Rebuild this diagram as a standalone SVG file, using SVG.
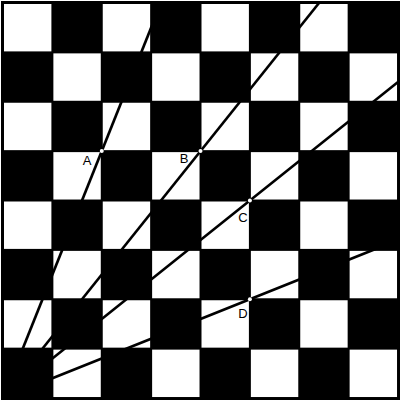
<svg xmlns="http://www.w3.org/2000/svg" width="401" height="401" viewBox="0 0 401 401">
<style>
.w{fill:#fff}
.ln{stroke:#000;stroke-width:2.7;fill:none;stroke-linecap:butt}
.pt{fill:#fff}
.lb{font-family:"Liberation Sans",Arial,sans-serif;font-size:13px;fill:#000;text-anchor:middle}
</style>
<defs><rect id="sq" width="47.4" height="47.4" class="w"/></defs>
<g id="board">
<rect x="1" y="1" width="399" height="399" fill="#000"/>
<use href="#sq" x="4" y="4"/><use href="#sq" x="102.75" y="4"/><use href="#sq" x="201.5" y="4"/><use href="#sq" x="300.25" y="4"/>
<use href="#sq" x="53.375" y="53.375"/><use href="#sq" x="152.125" y="53.375"/><use href="#sq" x="250.875" y="53.375"/><use href="#sq" x="349.625" y="53.375"/>
<use href="#sq" x="4" y="102.75"/><use href="#sq" x="102.75" y="102.75"/><use href="#sq" x="201.5" y="102.75"/><use href="#sq" x="300.25" y="102.75"/>
<use href="#sq" x="53.375" y="152.125"/><use href="#sq" x="152.125" y="152.125"/><use href="#sq" x="250.875" y="152.125"/><use href="#sq" x="349.625" y="152.125"/>
<use href="#sq" x="4" y="201.5"/><use href="#sq" x="102.75" y="201.5"/><use href="#sq" x="201.5" y="201.5"/><use href="#sq" x="300.25" y="201.5"/>
<use href="#sq" x="53.375" y="250.875"/><use href="#sq" x="152.125" y="250.875"/><use href="#sq" x="250.875" y="250.875"/><use href="#sq" x="349.625" y="250.875"/>
<use href="#sq" x="4" y="300.25"/><use href="#sq" x="102.75" y="300.25"/><use href="#sq" x="201.5" y="300.25"/><use href="#sq" x="300.25" y="300.25"/>
<use href="#sq" x="53.375" y="349.625"/><use href="#sq" x="152.125" y="349.625"/><use href="#sq" x="250.875" y="349.625"/><use href="#sq" x="349.625" y="349.625"/>
</g>
<g id="connectors">
<line class="ln" x1="3" y1="398" x2="161" y2="3"/>
<line class="ln" x1="3" y1="398" x2="319" y2="3"/>
<line class="ln" x1="3" y1="398" x2="398" y2="82"/>
<line class="ln" x1="3" y1="398" x2="398" y2="240"/>
</g>
<g id="A"><circle class="pt" cx="101.75" cy="151.1" r="2"/><text class="lb" x="87" y="165">A</text></g>
<g id="B"><circle class="pt" cx="200.5" cy="151.1" r="2"/><text class="lb" x="184" y="163">B</text></g>
<g id="C"><circle class="pt" cx="249.9" cy="200.5" r="2"/><text class="lb" x="243" y="222">C</text></g>
<g id="D"><circle class="pt" cx="249.9" cy="299.25" r="2"/><text class="lb" x="243" y="318">D</text></g>
</svg>
